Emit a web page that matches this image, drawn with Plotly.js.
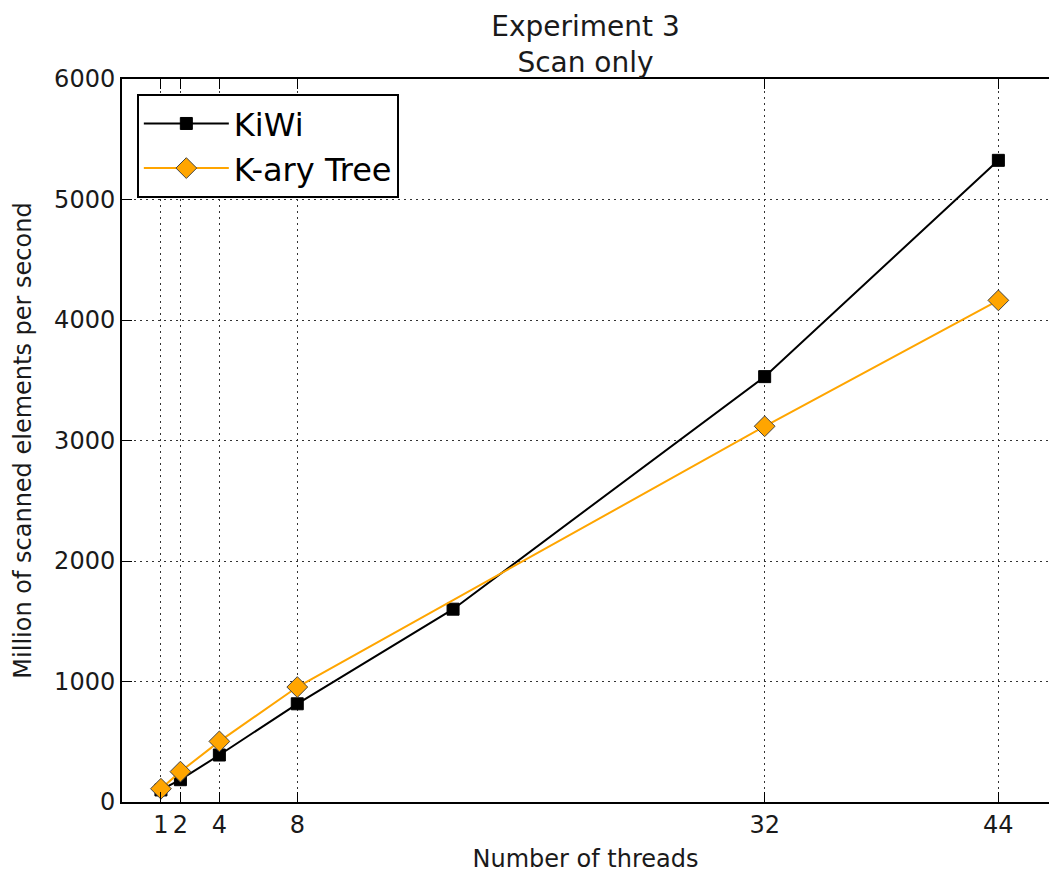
<!DOCTYPE html>
<html>
<head>
<meta charset="utf-8">
<script src="https://cdn.plot.ly/plotly-3.0.1.min.js"></script>
<style>html,body{margin:0;padding:0;background:#fff;}#chart{width:1049px;height:875px;}</style>
</head>
<body>
<div id="chart"></div>
<script>
const kiwiThreads = [1, 2, 4, 8, 16, 32, 44];
const kiwiValues = [100, 185, 390, 815, 1600, 3530, 5325];
const karyThreads = [1, 2, 4, 8, 32, 44];
const karyValues = [110, 252, 503, 954, 3118, 4163];
const xTicks = [1, 2, 4, 8, 32, 44];
const yTicks = [0, 1000, 2000, 3000, 4000, 5000, 6000];
const titleText = 'Experiment 3<br>Scan only';

const FONT = 'DejaVu Sans, sans-serif';
const TXT = '#1a1a1a';

const traces = [
  {
    x: kiwiThreads, y: kiwiValues, name: 'KiWi', type: 'scatter', mode: 'lines+markers',
    line: {color: '#000000', width: 2},
    marker: {symbol: 'square', size: 12, color: '#000000', line: {color: '#000000', width: 1}}
  },
  {
    x: karyThreads, y: karyValues, name: 'K-ary Tree', type: 'scatter', mode: 'lines+markers',
    line: {color: '#FFA500', width: 2},
    marker: {symbol: 'diamond', size: 16, color: '#FFA500', line: {color: '#444444', width: 1}}
  }
];

const layout = {
  width: 1049, height: 875,
  margin: {l: 122, r: 0, t: 79, b: 73},
  paper_bgcolor: '#ffffff', plot_bgcolor: '#ffffff',
  font: {family: FONT, size: 24, color: TXT},
  title: {
    text: titleText,
    font: {family: FONT, size: 28, color: TXT},
    x: 0.5, xref: 'paper', xanchor: 'center',
    y: 1 - 36 / 875, yref: 'container', yanchor: 'middle'
  },
  showlegend: true,
  legend: {
    x: 0.016, y: 0.979, xanchor: 'left', yanchor: 'top',
    bgcolor: '#ffffff', bordercolor: '#000000', borderwidth: 2,
    font: {family: FONT, size: 32, color: '#000000'},
    itemwidth: 85, tracegroupgap: 0
  },
  xaxis: {
    range: [-1, 46.6],
    tickmode: 'array', tickvals: xTicks, ticktext: xTicks.map(String),
    ticks: 'inside', ticklen: 10, tickwidth: 1, tickcolor: '#000000',
    showline: true, linecolor: '#000000', linewidth: 2, mirror: 'ticks',
    showgrid: true, gridcolor: '#333333', gridwidth: 1, griddash: '2px,4px',
    zeroline: false,
    tickfont: {family: FONT, size: 24, color: TXT},
    title: {text: 'Number of threads', font: {family: FONT, size: 24, color: TXT}, standoff: 12}
  },
  yaxis: {
    range: [0, 6000],
    tickmode: 'array', tickvals: yTicks, ticktext: yTicks.map(String),
    ticks: 'inside', ticklen: 10, tickwidth: 1, tickcolor: '#000000',
    showline: true, linecolor: '#000000', linewidth: 2, mirror: false,
    showgrid: true, gridcolor: '#333333', gridwidth: 1, griddash: '2px,4px',
    zeroline: false,
    tickfont: {family: FONT, size: 24, color: TXT},
    title: {text: 'Million of scanned elements per second', font: {family: FONT, size: 24, color: TXT}, standoff: 16}
  }
};

Plotly.newPlot('chart', traces, layout, {displayModeBar: false, staticPlot: true});
</script>
</body>
</html>
